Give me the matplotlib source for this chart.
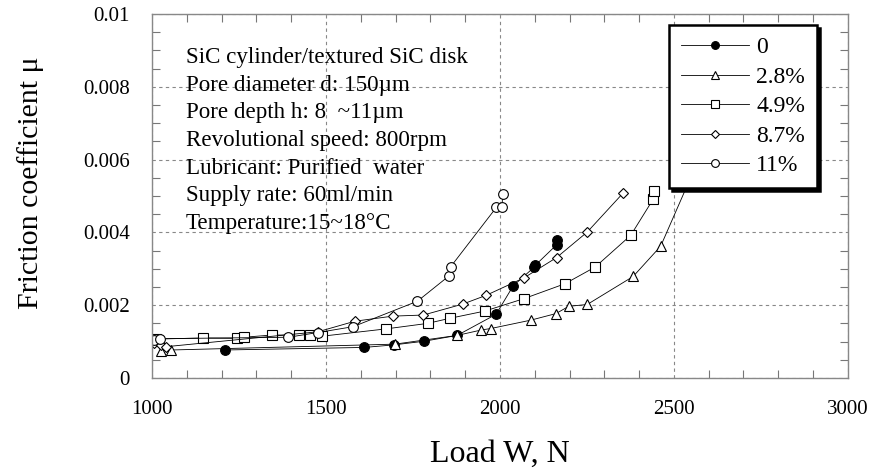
import matplotlib
matplotlib.use('Agg')
import matplotlib.pyplot as plt
from matplotlib.ticker import MultipleLocator

plt.rcParams['font.family'] = ['Liberation Serif', 'DejaVu Serif']

# Measured data (load W in N, friction coefficient mu)
load_0 = [1210, 1610, 1695, 1782, 1877, 1989, 2038, 2099, 2102, 2163, 2165]
mu_0 = [0.00077, 0.00084, 0.00091, 0.00101, 0.00117, 0.00175, 0.00253,
        0.00305, 0.00310, 0.00366, 0.00378]

load_28 = [1025, 1056, 1698, 1877, 1947, 1974, 2089, 2161, 2198, 2251,
           2383, 2462, 2580]
mu_28 = [0.00075, 0.00077, 0.00093, 0.00117, 0.00132, 0.00136, 0.00159,
         0.00177, 0.00197, 0.00202, 0.00279, 0.00362, 0.00620]

load_49 = [1004, 1012, 1147, 1243, 1264, 1344, 1422, 1454, 1490, 1673,
           1792, 1856, 1957, 2069, 2187, 2274, 2376, 2441, 2443]
mu_49 = [0.00104, 0.00107, 0.00110, 0.00109, 0.00112, 0.00118, 0.00118,
         0.00118, 0.00115, 0.00135, 0.00150, 0.00164, 0.00184, 0.00218,
         0.00259, 0.00305, 0.00392, 0.00492, 0.00515]

load_87 = [1005, 1025, 1040, 1477, 1583, 1692, 1780, 1893, 1960, 2069,
           2163, 2251, 2354]
mu_87 = [0.00095, 0.00090, 0.00086, 0.00127, 0.00156, 0.00170, 0.00173,
         0.00203, 0.00227, 0.00275, 0.00331, 0.00401, 0.00508]

load_11 = [1005, 1023, 1392, 1477, 1578, 1763, 1853, 1858, 1990, 2006, 2008]
mu_11 = [0.00105, 0.00108, 0.00112, 0.00125, 0.00141, 0.00211, 0.00280,
         0.00305, 0.00469, 0.00471, 0.00506]

series_labels = ['0', '2.8%', '4.9%', '8.7%', '11%']

x_ticks = [1000, 1500, 2000, 2500, 3000]
y_ticks = [0, 0.002, 0.004, 0.006, 0.008, 0.01]
y_ticklabels = ['0', '0.002', '0.004', '0.006', '0.008', '0.01']

conditions = [
    'SiC cylinder/textured SiC disk',
    'Pore diameter d: 150µm',
    'Pore depth h: 8  ~11µm',
    'Revolutional speed: 800rpm',
    'Lubricant: Purified  water',
    'Supply rate: 60ml/min',
    'Temperature:15~18°C',
]

fig = plt.figure(figsize=(8.72, 4.74), dpi=100)
ax = fig.add_axes([0.1743, 0.2025, 0.798, 0.768])

line_kw = dict(color='black', linewidth=0.6, markersize=7,
               markeredgewidth=0.8, markeredgecolor='black')
ax.plot(load_0, mu_0, marker='o', markerfacecolor='black',
        label=series_labels[0], **line_kw)
ax.plot(load_28, mu_28, marker='^', markerfacecolor='white',
        label=series_labels[1], **line_kw)
ax.plot(load_49, mu_49, marker='s', markerfacecolor='white',
        label=series_labels[2], **line_kw)
ax.plot(load_87, mu_87, marker='D', markerfacecolor='white',
        label=series_labels[3], **{**line_kw, 'markersize': 5.5})
ax.plot(load_11, mu_11, marker='o', markerfacecolor='white',
        label=series_labels[4], **line_kw)

ax.set_xlim(1000, 3000)
ax.set_ylim(0, 0.01)
ax.set_xticks(x_ticks)
ax.set_yticks(y_ticks)
ax.set_yticklabels(y_ticklabels)
ax.xaxis.set_minor_locator(MultipleLocator(100))
ax.yaxis.set_minor_locator(MultipleLocator(0.0005))
ax.tick_params(which='both', direction='in', top=True, right=True,
               color='#777777', width=0.8)
ax.tick_params(which='major', length=0, labelsize=15, pad=16)
ax.tick_params(which='minor', length=6)
for s in ax.spines.values():
    s.set_color('#888888')
    s.set_linewidth(1.0)

ax.grid(True, which='major', color='#888888', linestyle=(0, (3, 3)),
        linewidth=0.8)
ax.set_axisbelow(True)

ax.set_xlabel('Load W, N', fontsize=23, labelpad=15)
ax.set_ylabel('Friction coefficient μ', fontsize=21.5, labelpad=28, y=0.536)

for i, line in enumerate(conditions):
    ax.text(1098, 0.0088 - i * 0.00076, line, fontsize=16.6, va='center',
            ha='left')

leg = ax.legend(loc='upper right', bbox_to_anchor=(0.9555, 0.97),
                borderaxespad=0, fontsize=17, frameon=True, fancybox=False,
                shadow={'color': 'black', 'alpha': 1.0},
                edgecolor='black', handlelength=2.9, handletextpad=0.3,
                labelspacing=0.34, borderpad=0.5, numpoints=1,
                markerscale=0.8)
leg.get_frame().set_linewidth(1.8)
leg.set_zorder(10)

fig.savefig('out.png', dpi=100)
